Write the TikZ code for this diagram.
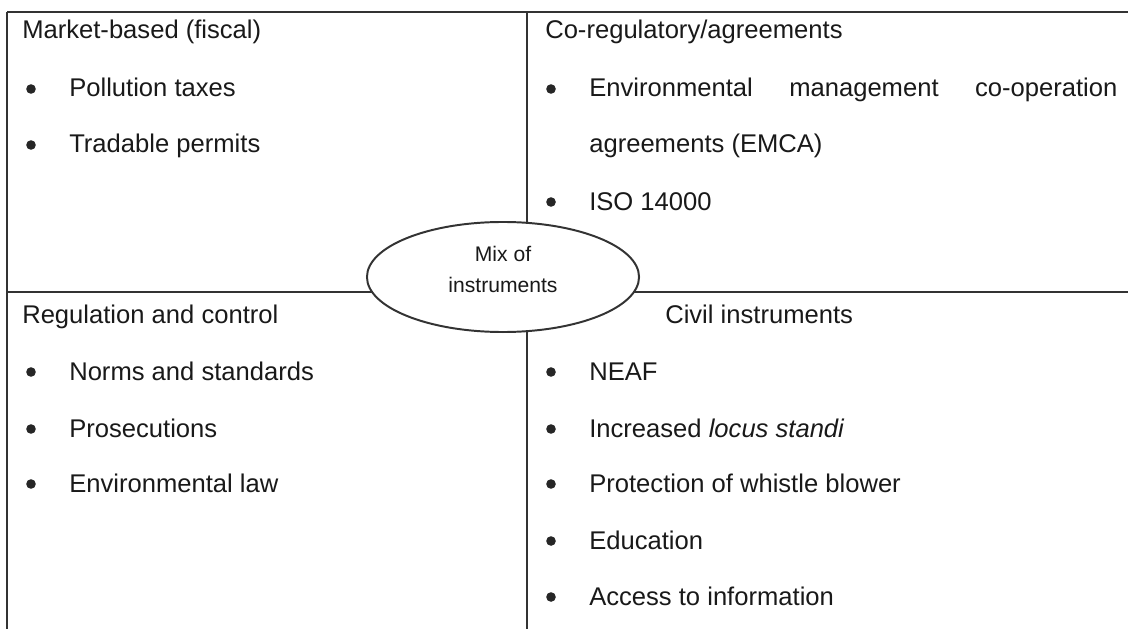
\documentclass[tikz,border=0pt]{standalone}
\usepackage{fontspec}
\setmainfont{Liberation Sans}
\usetikzlibrary{positioning}
\usetikzlibrary{shapes.geometric}

\tikzset{
   grid/.style={line width=1.4pt, black!80},
   txt/.style={anchor=base west, inner sep=0pt, text=black!90,
      font=\fontsize{18.2}{22}\selectfont},
   dot/.style={circle, fill=black!85, inner sep=0pt, minimum size=0.24cm},
   mixshape/.style={ellipse, draw, line width=1.4pt, black!80, fill=white,
      minimum width=6.8cm, minimum height=2.75cm, inner sep=0pt},
   mixlabel/.style={align=center, inner sep=0pt, text=black!90,
      font=\fontsize{15}{22}\selectfont}
}

\begin{document}
\begin{tikzpicture}[x=0.025cm, y=-0.025cm]
      \useasboundingbox (0,0) rectangle (1128,629);

      % frame and cross
      \coordinate (tl) at (7,12);
      \coordinate (tr) at (1128,12);
      \coordinate (bl) at (7,629);
      \coordinate (tm) at (527,12);
      \coordinate (bm) at (527,629);
      \coordinate (ml) at (7,292);
      \coordinate (mr) at (1128,292);
      \draw[grid] (tl) -- (tr);
      \draw[grid] (tl) -- (bl);
      \draw[grid] (tm) -- (bm);
      \draw[grid] (ml) -- (mr);

      % market-based
      \node[txt] (mkt) at (22,39) {Market-based (fiscal)};
      \node[dot] (d11) at (31,89) {};
      \node[txt] (tax) at (69,97) {Pollution taxes};
      \node[dot] (d12) at (31,145) {};
      \node[txt] (perm) at (69,153) {Tradable permits};

      % co-regulatory
      \node[txt] (coreg) at (545,39) {Co-regulatory/agreements};
      \node[dot] (d21) at (551,89) {};
      \node[txt] (emca) at (589,97) {\makebox[13.2cm][s]{Environmental management co-operation}};
      \node[txt] (emcb) at (589,153) {agreements (EMCA)};
      \node[dot] (d22) at (551,202) {};
      \node[txt] (iso) at (589,210) {ISO 14000};

      % regulation and control
      \node[txt] (reg) at (22,323) {Regulation and control};
      \node[dot] (d31) at (31,372) {};
      \node[txt] (norm) at (69,380) {Norms and standards};
      \node[dot] (d32) at (31,429) {};
      \node[txt] (pros) at (69,437) {Prosecutions};
      \node[dot] (d33) at (31,484) {};
      \node[txt] (law) at (69,492) {Environmental law};

      % civil instruments
      \node[txt] (civ) at (665,323) {Civil instruments};
      \node[dot] (d41) at (551,372) {};
      \node[txt] (neaf) at (589,380) {NEAF};
      \node[dot] (d42) at (551,429) {};
      \node[txt] (locus) at (589,437) {Increased \textit{locus standi}};
      \node[dot] (d43) at (551,484) {};
      \node[txt] (whis) at (589,492) {Protection of whistle blower};
      \node[dot] (d44) at (551,541) {};
      \node[txt] (edu) at (589,549) {Education};
      \node[dot] (d45) at (551,597) {};
      \node[txt] (info) at (589,605) {Access to information};

      % centre
      \node[mixshape] (mix) at (503,277) {};
      \node[mixlabel] (mixtext) at (503,269) {Mix of\\instruments};
   \end{tikzpicture}
\end{document}
